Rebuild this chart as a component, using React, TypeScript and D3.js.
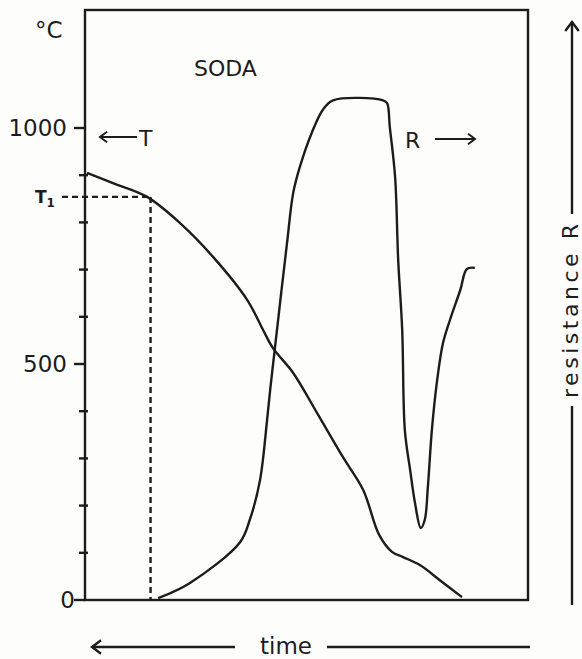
import React from 'react';
import * as d3 from 'd3';

// temperature curve T (°C) against time (arbitrary units 0..100)
const tempTime = [0.45, 6.3, 14.0, 21.4, 28.9, 36.6, 40.2, 42.4, 47.0, 52.4, 58.2, 62.8, 66.4, 69.3, 71.8, 75.6, 80.1, 85.1];
const tempValue = [905, 883, 854, 799, 727, 636, 572, 534, 481, 396, 303, 233, 138, 102, 91, 74, 42, 6];

// resistance curve R (arbitrary units 0..100)
const resTime = [16.5, 23.7, 35.0, 37.2, 39.5, 41.1, 41.8, 42.9, 45.6, 47.0, 48.5, 51.2, 53.7, 56.0, 67.3, 68.2, 68.8, 70.0, 70.7, 71.6, 72.2, 73.4, 74.5, 75.8, 76.7, 77.4, 78.3, 79.5, 80.8, 82.4, 84.7, 86.2, 88.0];
const resValue = [0.3, 2.9, 9.8, 13.6, 20.3, 30.5, 35.6, 42.9, 60.5, 69.0, 73.4, 79.2, 83.1, 84.7, 84.7, 84.2, 80.2, 71.7, 57.6, 45.8, 28.8, 22.0, 16.4, 12.2, 13.6, 19.2, 28.8, 37.3, 43.5, 47.5, 52.5, 56.1, 56.3];

const tempTicks = [0, 100, 200, 300, 400, 500, 600, 700, 800, 900, 1000];
const tempLabels = [0, 500, 1000];
const t1Time = 14.8;
const t1Value = 854;

const W = 582;
const H = 659;
const ink = '#1c1c1c';
const font = '"DejaVu Sans", sans-serif';
const sw = 2.4;

export default function App() {
  const left = 85;
  const right = 528;
  const top = 10;
  const bottom = 600;

  const x = d3.scaleLinear().domain([0, 100]).range([left, right]);
  const yT = d3.scaleLinear().domain([0, 1250]).range([bottom, top]);
  const yR = d3.scaleLinear().domain([0, 100]).range([bottom, top]);

  const tLine = d3
    .line<number>()
    .x((d, i) => x(tempTime[i]))
    .y((d) => yT(d))
    .curve(d3.curveCatmullRom.alpha(0.5));

  const rLine = d3
    .line<number>()
    .x((d, i) => x(resTime[i]))
    .y((d) => yR(d))
    .curve(d3.curveCatmullRom.alpha(0.5));

  // open arrow head helper
  const head = (px: number, py: number, dir: 'l' | 'r' | 'u', s = 7) => {
    if (dir === 'l') return `M${px + s},${py - s * 0.75}L${px},${py}L${px + s},${py + s * 0.75}`;
    if (dir === 'r') return `M${px - s},${py - s * 0.75}L${px},${py}L${px - s},${py + s * 0.75}`;
    return `M${px - s * 0.75},${py + s}L${px},${py}L${px + s * 0.75},${py + s}`;
  };

  return (
    <svg
      width={W}
      height={H}
      style={{ position: 'absolute', left: 0, top: 0, background: '#fdfdfb' }}
      fontFamily={font}
    >
      {/* frame */}
      <rect x={left} y={top} width={right - left} height={bottom - top} fill="none" stroke={ink} strokeWidth={sw} />

      {/* temperature axis ticks */}
      {tempTicks.map((v) => {
        const major = tempLabels.includes(v);
        return (
          <line
            key={v}
            x1={major ? left - 11 : left - 6}
            x2={major ? left : left + 3}
            y1={yT(v)}
            y2={yT(v)}
            stroke={ink}
            strokeWidth={sw}
          />
        );
      })}
      {tempLabels.map((v) => (
        <text key={v} x={v === 0 ? left - 10 : left - 18} y={yT(v)} dy="0.36em" textAnchor="end" fontSize={23} fill={ink}>
          {v}
        </text>
      ))}
      <text x={35} y={38} fontSize={23} fill={ink}>°C</text>

      {/* T1 guide */}
      <line x1={62} x2={x(t1Time)} y1={yT(t1Value)} y2={yT(t1Value)} stroke={ink} strokeWidth={sw} strokeDasharray="6,4" />
      <line x1={x(t1Time)} x2={x(t1Time)} y1={yT(t1Value)} y2={bottom} stroke={ink} strokeWidth={sw} strokeDasharray="6,4" />
      <text x={35} y={yT(t1Value) + 6} fontSize={17} fontWeight="bold" fill={ink}>
        T<tspan fontSize={12} dy={4}>1</tspan>
      </text>

      {/* curves */}
      <path d={tLine(tempValue) || ''} fill="none" stroke={ink} strokeWidth={sw} strokeLinejoin="round" />
      <path d={rLine(resValue) || ''} fill="none" stroke={ink} strokeWidth={sw} strokeLinejoin="round" />

      {/* in-plot labels */}
      <text x={194} y={76} fontSize={22} fill={ink}>SODA</text>
      <line x1={100} x2={137} y1={137} y2={137} stroke={ink} strokeWidth={2} />
      <path d={head(100, 137, 'l')} fill="none" stroke={ink} strokeWidth={2} />
      <text x={139} y={146} fontSize={22} fill={ink}>T</text>
      <text x={405} y={148} fontSize={22} fill={ink}>R</text>
      <line x1={435} x2={475} y1={139} y2={139} stroke={ink} strokeWidth={2} />
      <path d={head(475, 139, 'r')} fill="none" stroke={ink} strokeWidth={2} />

      {/* time arrow */}
      <line x1={92} x2={235} y1={647} y2={647} stroke={ink} strokeWidth={sw} />
      <path d={head(92, 647, 'l', 9)} fill="none" stroke={ink} strokeWidth={sw} />
      <text x={286} y={654} textAnchor="middle" fontSize={23} fill={ink}>time</text>
      <line x1={327} x2={530} y1={647} y2={647} stroke={ink} strokeWidth={sw} />

      {/* resistance arrow */}
      <line x1={572} x2={572} y1={22} y2={214} stroke={ink} strokeWidth={sw} />
      <path d={head(572, 22, 'u', 9)} fill="none" stroke={ink} strokeWidth={sw} />
      <text
        transform={`translate(578,311) rotate(-90)`}
        textAnchor="middle"
        fontSize={22}
        fill={ink}
        textLength={174}
        lengthAdjust="spacing"
      >
        resistance R
      </text>
      <line x1={572} x2={572} y1={406} y2={605} stroke={ink} strokeWidth={sw} />
    </svg>
  );
}
